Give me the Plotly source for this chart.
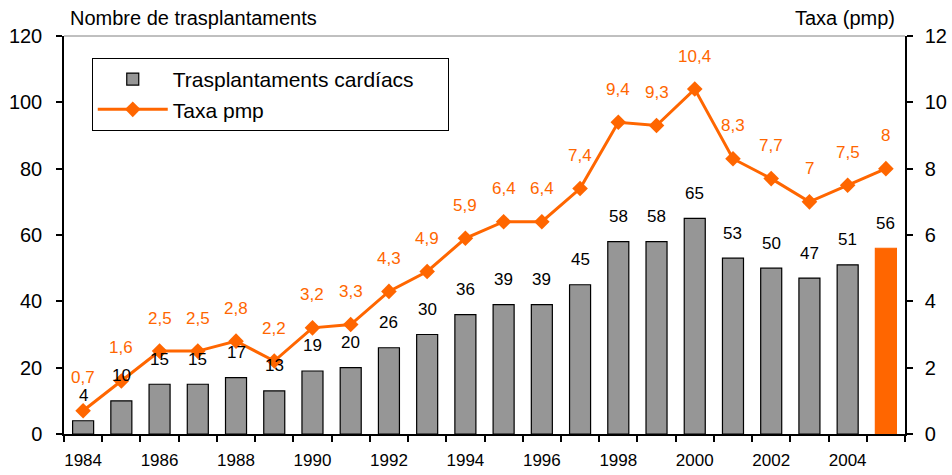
import plotly.graph_objects as go

years = list(range(1984, 2006))
trasplantaments = [4, 10, 15, 15, 17, 13, 19, 20, 26, 30, 36, 39, 39, 45, 58, 58, 65, 53, 50, 47, 51, 56]
taxa = [0.7, 1.6, 2.5, 2.5, 2.8, 2.2, 3.2, 3.3, 4.3, 4.9, 5.9, 6.4, 6.4, 7.4, 9.4, 9.3, 10.4, 8.3, 7.7, 7.0, 7.5, 8.0]
taxa_labels = ["0,7", "1,6", "2,5", "2,5", "2,8", "2,2", "3,2", "3,3", "4,3", "4,9", "5,9", "6,4", "6,4",
               "7,4", "9,4", "9,3", "10,4", "8,3", "7,7", "7", "7,5", "8"]
year_ticks = list(range(1984, 2005, 2))
left_ticks = [0, 20, 40, 60, 80, 100, 120]
right_ticks = [0, 2, 4, 6, 8, 10, 12]

ORANGE = "#FF6600"
GRAY = "#969696"
FONT = "Liberation Sans, Arial, sans-serif"

bar_colors = [GRAY] * (len(years) - 1) + [ORANGE]
bar_lines = ["#000000"] * (len(years) - 1) + [ORANGE]

fig = go.Figure()
fig.add_trace(go.Bar(
    x=years, y=trasplantaments, name="Trasplantaments cardíacs" + "\u00a0" * 5,
    marker=dict(color=bar_colors, line=dict(color=bar_lines, width=1.2)),
    yaxis="y",
))
fig.add_trace(go.Scatter(
    x=years, y=taxa, name="Taxa pmp", mode="lines+markers",
    line=dict(color=ORANGE, width=3),
    marker=dict(symbol="diamond", size=12, color=ORANGE),
    yaxis="y2",
))

annotations = []
for x, v in zip(years, trasplantaments):
    annotations.append(dict(x=x, y=v, xref="x", yref="y", text=str(v), showarrow=False,
                            yanchor="middle", yshift=25,
                            font=dict(family=FONT, size=17, color="#000000")))
for x, v, t in zip(years, taxa, taxa_labels):
    annotations.append(dict(x=x, y=v, xref="x", yref="y2", text=t, showarrow=False,
                            yanchor="middle", yshift=33,
                            font=dict(family=FONT, size=17, color=ORANGE)))
annotations.append(dict(x=0.005, y=1.045, xref="paper", yref="paper", text="Nombre de trasplantaments",
                        showarrow=False, xanchor="left", yanchor="middle",
                        font=dict(family=FONT, size=20, color="#000000")))
annotations.append(dict(x=0.991, y=1.045, xref="paper", yref="paper", text="Taxa (pmp)",
                        showarrow=False, xanchor="right", yanchor="middle",
                        font=dict(family=FONT, size=20, color="#000000")))

fig.update_layout(
    width=952, height=475,
    margin=dict(l=64, r=47, t=36, b=41),
    paper_bgcolor="white", plot_bgcolor="white",
    bargap=0.45,
    font=dict(family=FONT, color="#000000"),
    showlegend=True,
    legend=dict(x=0.033, y=0.945, xanchor="left", yanchor="top",
                bordercolor="#000000", borderwidth=1, bgcolor="white",
                font=dict(family=FONT, size=21), tracegroupgap=4,
                itemwidth=70),
    xaxis=dict(range=[1983.5, 2005.5], tickmode="array", tickvals=year_ticks,
               ticktext=[str(y) for y in year_ticks], ticks="", showgrid=False,
               showline=True, linecolor="#000000", linewidth=1.5, automargin=False,
               tickfont=dict(family=FONT, size=17), ticklabelstandoff=10,
               minor=dict(tickmode="array", tickvals=[y + 0.5 for y in range(1983, 2006)],
                          ticks="outside", ticklen=6, tickcolor="#000000", tickwidth=1.5,
                          showgrid=False),
               zeroline=False, fixedrange=True),
    yaxis=dict(range=[0, 120], tickvals=left_ticks, ticks="outside", ticklen=6,
               tickcolor="#000000", tickwidth=1.5, automargin=False,
               showline=True, linecolor="#000000", linewidth=1.5, showgrid=False, zeroline=False,
               tickfont=dict(family=FONT, size=20), ticklabelstandoff=10),
    yaxis2=dict(range=[0, 12], tickvals=right_ticks, overlaying="y", side="right",
                ticks="outside", ticklen=6, tickcolor="#000000", tickwidth=1.5, automargin=False,
                showline=True, linecolor="#000000", linewidth=1.5, showgrid=False, zeroline=False,
                tickfont=dict(family=FONT, size=20), ticklabelstandoff=8),
    shapes=[dict(type="line", xref="paper", yref="paper", x0=0, x1=1, y0=1, y1=1,
                 line=dict(color="#808080", width=1))],
    annotations=annotations,
)

fig.write_html("out.html", config={"displayModeBar": False},
               post_script="document.body.style.margin='0';document.body.style.overflow='hidden';")
